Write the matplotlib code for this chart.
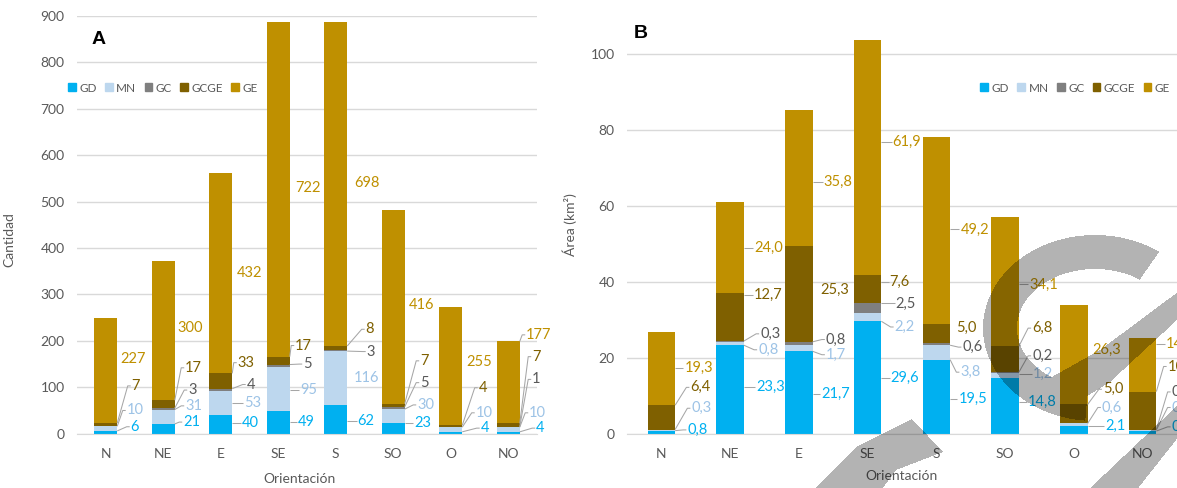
import numpy as np
import matplotlib
matplotlib.use("Agg")
import matplotlib.pyplot as plt
from matplotlib.path import Path
from matplotlib.patches import Patch

plt.rcParams['font.family'] = ['Lato', 'DejaVu Sans']

orient = ["N", "NE", "E", "SE", "S", "SO", "O", "NO"]
series = ["GD", "MN", "GC", "GCGE", "GE"]

# A - number of landslides by orientation
gd_a = [6, 21, 40, 49, 62, 23, 4, 4]
mn_a = [10, 31, 53, 95, 116, 30, 10, 10]
gc_a = [0, 3, 4, 5, 3, 5, 0, 1]
gcge_a = [7, 17, 33, 17, 8, 7, 4, 7]
ge_a = [227, 300, 432, 722, 698, 416, 255, 177]

# B - area (km2) by orientation
gd_b = [0.8, 23.3, 21.7, 29.6, 19.5, 14.8, 2.1, 0.7]
mn_b = [0.3, 0.8, 1.7, 2.2, 3.8, 1.2, 0.6, 0.3]
gc_b = [0.0, 0.3, 0.8, 2.5, 0.6, 0.2, 0.0, 0.1]
gcge_b = [6.4, 12.7, 25.3, 7.6, 5.0, 6.8, 5.0, 10.0]
ge_b = [19.3, 24.0, 35.8, 61.9, 49.2, 34.1, 26.3, 14.2]

BAR_COLORS = ["#00B0F0", "#BDD7EE", "#7F7F7F", "#7F6000", "#BF9000"]
TXT_COLORS = ["#00B0F0", "#9DC3E6", "#595959", "#7F6000", "#BF9000"]

# label placement (layout only): y in data units, dx in px from bar centre
lab_y_a = [[15, 50, None, 103, 162],
           [25, 60, 94, 142, 227],
           [23, 67, 106, 153, 346],
           [26, 94, 150, 190, 529],
           [27, 119, 177, 225, 540],
           [22, 62, 110, 157, 277],
           [12, 45, None, 99, 155],
           [12, 45, 117, 166, 213]]
lab_dx_a = [[25, 21, 0, 26, 15],
            [20, 22, 25, 22, 14],
            [21, 23, 26, 17, 16],
            [20, 22, 25, 17, 17],
            [22, 18, 31, 30, 19],
            [21, 24, 27, 27, 16],
            [30, 25, 0, 28, 16],
            [28, 21, 24, 24, 18]]
lab_y_b = [[1.0, 6.7, None, 12.2, 17.4],
           [12.2, 22.1, 26.3, 36.5, 49.0],
           [10.5, 20.8, 24.8, 37.8, 66.4],
           [14.8, 28.1, 34.3, 40.0, 76.9],
           [9.2, 16.2, 22.8, 27.8, 53.8],
           [8.3, 15.7, 20.5, 27.8, 39.3],
           [2.1, 6.9, None, 11.7, 22.1],
           [1.8, 6.9, 11.0, 17.7, 23.7]]
lab_dx_b = [[26, 30, 0, 29, 23],
            [26, 28, 30, 24, 24],
            [22, 27, 27, 21, 25],
            [23, 27, 28, 22, 25],
            [22, 24, 26, 20, 24],
            [23, 28, 27, 27, 24],
            [31, 28, 0, 29, 18],
            [29, 29, 29, 25, 23]]

W, H = 1177, 488
fig = plt.figure(figsize=(W / 100, H / 100), dpi=100)


def draw_panel(ax, values, lab_y, lab_dx, px_cat, fmt):
    x = np.arange(len(orient))
    bottom = np.zeros(len(orient))
    for j, vals in enumerate(values):
        vals = np.array(vals, float)
        ax.bar(x, vals, 0.4, bottom=bottom, color=BAR_COLORS[j], zorder=2)
        for i in range(len(orient)):
            ly = lab_y[i][j]
            if ly is None:
                continue
            lx = x[i] + lab_dx[i][j] / px_cat
            ax.text(lx, ly, fmt(vals[i]), color=TXT_COLORS[j], fontsize=10.5,
                    ha='left', va='center', zorder=4)
            b, top = bottom[i], bottom[i] + vals[i]
            if lab_dx[i][j] - 0.2 * px_cat > 8 or not (b <= ly <= top):
                ty = min(max(ly, b), top)
                edge = x[i] + 0.2
                ax.plot([edge, lx - 4 / px_cat, lx - 1 / px_cat], [ty, ly, ly],
                        color='#A6A6A6', lw=0.75, zorder=3, solid_capstyle='butt')
        bottom += vals
    ax.set_xlim(-0.5, len(orient) - 0.5)
    ax.set_xticks(x)
    ax.set_xticklabels(orient)
    for s in ['top', 'right', 'left']:
        ax.spines[s].set_visible(False)
    ax.spines['bottom'].set_color('#D9D9D9')
    ax.yaxis.grid(True, color='#D9D9D9', lw=1)
    ax.set_axisbelow(True)
    ax.tick_params(length=0, colors='#595959', labelsize=10)
    ax.tick_params(axis='x', pad=10)
    ax.tick_params(axis='y', pad=9)


y0 = (H - 433.7) / H
hgt = (433.7 - 16) / H

ax_a = fig.add_axes([77 / W, y0, 460 / W, hgt])
draw_panel(ax_a, [gd_a, mn_a, gc_a, gcge_a, ge_a], lab_y_a, lab_dx_a, 57.6,
           lambda v: f"{v:.0f}")
ax_a.set_ylim(0, 900)
ax_a.set_yticks(range(0, 901, 100))
ax_a.set_ylabel("Cantidad", fontsize=10, color='#595959')
ax_a.yaxis.set_label_coords(-0.133, 0.464)
ax_a.set_xlabel("Orientación", fontsize=10, color='#595959')
ax_a.xaxis.set_label_coords(0.483, -0.093)

ax_b = fig.add_axes([627 / W, y0, 550 / W, hgt])
draw_panel(ax_b, [gd_b, mn_b, gc_b, gcge_b, ge_b], lab_y_b, lab_dx_b, 68.75,
           lambda v: f"{v:.1f}".replace('.', ','))
ax_b.set_ylim(0, 110)
ax_b.set_yticks(range(0, 101, 20))
ax_b.set_ylabel("Área (km²)", fontsize=10, color='#595959')
ax_b.yaxis.set_label_coords(-0.091, 0.5)
ax_b.set_xlabel("Orientación", fontsize=10, color='#595959')
ax_b.xaxis.set_label_coords(0.5, -0.086)

handles = [Patch(color=c) for c in BAR_COLORS]
leg_kw = dict(ncol=5, frameon=False, fontsize=8.5, handlelength=0.65,
              handleheight=0.65, handletextpad=0.3, columnspacing=0.7,
              borderaxespad=0, borderpad=0, labelcolor='#595959')
fig.legend(handles, series, loc='center left',
           bbox_to_anchor=(68 / W, 1 - 88 / H), **leg_kw)
fig.legend(handles, series, loc='center right',
           bbox_to_anchor=(1170 / W, 1 - 88 / H), **leg_kw)

fig.text(99 / W, 1 - 39 / H, "A", fontsize=14, fontweight='bold',
         family='Liberation Sans', ha='center', va='center')
fig.text(641 / W, 1 - 34 / H, "B", fontsize=14, fontweight='bold',
         family='Liberation Sans', ha='center', va='center')

# grey watermark shapes over the right panel (image pixel coordinates)
t = np.radians(np.linspace(95, 305, 90))
cx, cy, rx, ry, hw = 1095, 328, 95, 76, 17
outer = np.c_[cx + (rx + hw) * np.cos(t), cy + (ry + hw) * np.sin(t)]
inner = np.c_[cx + (rx - hw) * np.cos(t), cy + (ry - hw) * np.sin(t)][::-1]
shapes = [np.vstack([outer, inner]),
          [(1050, 378), (1100, 350), (1190, 283), (1190, 308), (1110, 382), (1060, 413)],
          [(812, 492), (858, 446), (912, 419), (943, 452), (896, 470), (880, 492)],
          [(1180, 403), (1180, 435), (1135, 492), (1086, 492)]]
yy, xx = np.mgrid[0:H, 0:W]
pts = np.c_[xx.ravel() + 0.5, yy.ravel() + 0.5]
mask = np.zeros(H * W, bool)
for s in shapes:
    s = np.asarray(s, float)
    mask |= Path(np.vstack([s, s[:1]]), closed=True).contains_points(pts)
wm = np.zeros((H, W, 4))
wm[..., 3] = mask.reshape(H, W) * 0.3
fig.figimage(wm, xo=0, yo=0, origin='upper', zorder=10)

fig.savefig("out.png", dpi=100)
